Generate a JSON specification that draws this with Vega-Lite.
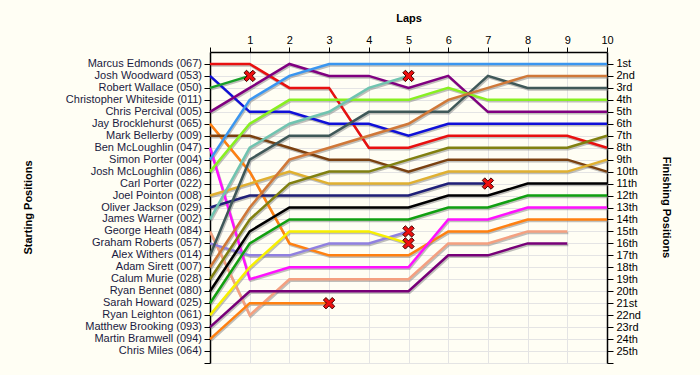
{
  "$schema": "https://vega.github.io/schema/vega-lite/v6.json",
  "width": 397,
  "height": 311,
  "autosize": "none",
  "padding": {"left": 210, "top": 52, "right": 93, "bottom": 12},
  "background": "#FFFEF4",
  "config": {
    "view": {"stroke": null},
    "font": "Liberation Sans",
    "axis": {
      "labelFont": "Liberation Sans",
      "labelFontSize": 11,
      "labelColor": "#1a1a40",
      "titleFont": "Liberation Sans",
      "titleFontSize": 11,
      "titleFontWeight": "bold",
      "titleColor": "#000000",
      "domainColor": "#000000",
      "domainWidth": 1.5,
      "tickColor": "#000000",
      "tickWidth": 1,
      "tickSize": 6,
      "gridColor": "#E4E4E4",
      "gridWidth": 1,
      "labelFlush": false,
      "labelOverlap": false
    }
  },
  "datasets": {
    "laps": [
      {"car":"067","lap":0,"pos":1},{"car":"067","lap":1,"pos":1},{"car":"067","lap":2,"pos":3},{"car":"067","lap":3,"pos":3},{"car":"067","lap":4,"pos":8},{"car":"067","lap":5,"pos":8},{"car":"067","lap":6,"pos":7},{"car":"067","lap":7,"pos":7},{"car":"067","lap":8,"pos":7},{"car":"067","lap":9,"pos":7},{"car":"067","lap":10,"pos":8},
      {"car":"053","lap":0,"pos":2},{"car":"053","lap":1,"pos":5},{"car":"053","lap":2,"pos":5},{"car":"053","lap":3,"pos":6},{"car":"053","lap":4,"pos":6},{"car":"053","lap":5,"pos":7},{"car":"053","lap":6,"pos":6},{"car":"053","lap":7,"pos":6},{"car":"053","lap":8,"pos":6},{"car":"053","lap":9,"pos":6},{"car":"053","lap":10,"pos":6},
      {"car":"050","lap":0,"pos":3},{"car":"050","lap":1,"pos":2},
      {"car":"005","lap":0,"pos":5},{"car":"005","lap":1,"pos":3},{"car":"005","lap":2,"pos":1},{"car":"005","lap":3,"pos":2},{"car":"005","lap":4,"pos":2},{"car":"005","lap":5,"pos":3},{"car":"005","lap":6,"pos":2},{"car":"005","lap":7,"pos":5},{"car":"005","lap":8,"pos":5},{"car":"005","lap":9,"pos":5},{"car":"005","lap":10,"pos":5},
      {"car":"065","lap":0,"pos":6},{"car":"065","lap":1,"pos":10},{"car":"065","lap":2,"pos":16},{"car":"065","lap":3,"pos":17},{"car":"065","lap":4,"pos":17},{"car":"065","lap":5,"pos":17},{"car":"065","lap":6,"pos":15},{"car":"065","lap":7,"pos":15},{"car":"065","lap":8,"pos":14},{"car":"065","lap":9,"pos":14},{"car":"065","lap":10,"pos":14},
      {"car":"009","lap":0,"pos":7},{"car":"009","lap":1,"pos":7},{"car":"009","lap":2,"pos":8},{"car":"009","lap":3,"pos":9},{"car":"009","lap":4,"pos":9},{"car":"009","lap":5,"pos":10},{"car":"009","lap":6,"pos":9},{"car":"009","lap":7,"pos":9},{"car":"009","lap":8,"pos":9},{"car":"009","lap":9,"pos":9},{"car":"009","lap":10,"pos":10},
      {"car":"047","lap":0,"pos":8},{"car":"047","lap":1,"pos":19},{"car":"047","lap":2,"pos":18},{"car":"047","lap":3,"pos":18},{"car":"047","lap":4,"pos":18},{"car":"047","lap":5,"pos":18},{"car":"047","lap":6,"pos":14},{"car":"047","lap":7,"pos":14},{"car":"047","lap":8,"pos":13},{"car":"047","lap":9,"pos":13},{"car":"047","lap":10,"pos":13},
      {"car":"004","lap":0,"pos":9},{"car":"004","lap":1,"pos":4},{"car":"004","lap":2,"pos":2},{"car":"004","lap":3,"pos":1},{"car":"004","lap":4,"pos":1},{"car":"004","lap":5,"pos":1},{"car":"004","lap":6,"pos":1},{"car":"004","lap":7,"pos":1},{"car":"004","lap":8,"pos":1},{"car":"004","lap":9,"pos":1},{"car":"004","lap":10,"pos":1},
      {"car":"086","lap":0,"pos":10},{"car":"086","lap":1,"pos":6},{"car":"086","lap":2,"pos":4},{"car":"086","lap":3,"pos":4},{"car":"086","lap":4,"pos":4},{"car":"086","lap":5,"pos":4},{"car":"086","lap":6,"pos":3},{"car":"086","lap":7,"pos":4},{"car":"086","lap":8,"pos":4},{"car":"086","lap":9,"pos":4},{"car":"086","lap":10,"pos":4},
      {"car":"008","lap":0,"pos":12},{"car":"008","lap":1,"pos":11},{"car":"008","lap":2,"pos":10},{"car":"008","lap":3,"pos":11},{"car":"008","lap":4,"pos":11},{"car":"008","lap":5,"pos":11},{"car":"008","lap":6,"pos":10},{"car":"008","lap":7,"pos":10},{"car":"008","lap":8,"pos":10},{"car":"008","lap":9,"pos":10},{"car":"008","lap":10,"pos":9},
      {"car":"029","lap":0,"pos":13},{"car":"029","lap":1,"pos":12},{"car":"029","lap":2,"pos":12},{"car":"029","lap":3,"pos":12},{"car":"029","lap":4,"pos":12},{"car":"029","lap":5,"pos":12},{"car":"029","lap":6,"pos":11},{"car":"029","lap":7,"pos":11},
      {"car":"002","lap":0,"pos":14},{"car":"002","lap":1,"pos":8},{"car":"002","lap":2,"pos":6},{"car":"002","lap":3,"pos":5},{"car":"002","lap":4,"pos":3},{"car":"002","lap":5,"pos":2},
      {"car":"084","lap":0,"pos":15},{"car":"084","lap":1,"pos":22},{"car":"084","lap":2,"pos":19},{"car":"084","lap":3,"pos":19},{"car":"084","lap":4,"pos":19},{"car":"084","lap":5,"pos":19},{"car":"084","lap":6,"pos":16},{"car":"084","lap":7,"pos":16},{"car":"084","lap":8,"pos":15},{"car":"084","lap":9,"pos":15},
      {"car":"057","lap":0,"pos":16},{"car":"057","lap":1,"pos":17},{"car":"057","lap":2,"pos":17},{"car":"057","lap":3,"pos":16},{"car":"057","lap":4,"pos":16},{"car":"057","lap":5,"pos":15},
      {"car":"014","lap":0,"pos":17},{"car":"014","lap":1,"pos":9},{"car":"014","lap":2,"pos":7},{"car":"014","lap":3,"pos":7},{"car":"014","lap":4,"pos":5},{"car":"014","lap":5,"pos":5},{"car":"014","lap":6,"pos":5},{"car":"014","lap":7,"pos":2},{"car":"014","lap":8,"pos":3},{"car":"014","lap":9,"pos":3},{"car":"014","lap":10,"pos":3},
      {"car":"007","lap":0,"pos":18},{"car":"007","lap":1,"pos":13},{"car":"007","lap":2,"pos":9},{"car":"007","lap":3,"pos":8},{"car":"007","lap":4,"pos":7},{"car":"007","lap":5,"pos":6},{"car":"007","lap":6,"pos":4},{"car":"007","lap":7,"pos":3},{"car":"007","lap":8,"pos":2},{"car":"007","lap":9,"pos":2},{"car":"007","lap":10,"pos":2},
      {"car":"028","lap":0,"pos":19},{"car":"028","lap":1,"pos":14},{"car":"028","lap":2,"pos":11},{"car":"028","lap":3,"pos":10},{"car":"028","lap":4,"pos":10},{"car":"028","lap":5,"pos":9},{"car":"028","lap":6,"pos":8},{"car":"028","lap":7,"pos":8},{"car":"028","lap":8,"pos":8},{"car":"028","lap":9,"pos":8},{"car":"028","lap":10,"pos":7},
      {"car":"080","lap":0,"pos":20},{"car":"080","lap":1,"pos":15},{"car":"080","lap":2,"pos":13},{"car":"080","lap":3,"pos":13},{"car":"080","lap":4,"pos":13},{"car":"080","lap":5,"pos":13},{"car":"080","lap":6,"pos":12},{"car":"080","lap":7,"pos":12},{"car":"080","lap":8,"pos":11},{"car":"080","lap":9,"pos":11},{"car":"080","lap":10,"pos":11},
      {"car":"025","lap":0,"pos":21},{"car":"025","lap":1,"pos":16},{"car":"025","lap":2,"pos":14},{"car":"025","lap":3,"pos":14},{"car":"025","lap":4,"pos":14},{"car":"025","lap":5,"pos":14},{"car":"025","lap":6,"pos":13},{"car":"025","lap":7,"pos":13},{"car":"025","lap":8,"pos":12},{"car":"025","lap":9,"pos":12},{"car":"025","lap":10,"pos":12},
      {"car":"061","lap":0,"pos":22},{"car":"061","lap":1,"pos":18},{"car":"061","lap":2,"pos":15},{"car":"061","lap":3,"pos":15},{"car":"061","lap":4,"pos":15},{"car":"061","lap":5,"pos":16},
      {"car":"093","lap":0,"pos":23},{"car":"093","lap":1,"pos":20},{"car":"093","lap":2,"pos":20},{"car":"093","lap":3,"pos":20},{"car":"093","lap":4,"pos":20},{"car":"093","lap":5,"pos":20},{"car":"093","lap":6,"pos":17},{"car":"093","lap":7,"pos":17},{"car":"093","lap":8,"pos":16},{"car":"093","lap":9,"pos":16},
      {"car":"094","lap":0,"pos":24},{"car":"094","lap":1,"pos":21},{"car":"094","lap":2,"pos":21},{"car":"094","lap":3,"pos":21}
    ],
    "retired": [
      {"car":"050","lap":1,"pos":2},
      {"car":"094","lap":3,"pos":21},
      {"car":"002","lap":5,"pos":2},
      {"car":"057","lap":5,"pos":15},
      {"car":"061","lap":5,"pos":16},
      {"car":"029","lap":7,"pos":11}
    ],
    "starts": [
      {"pos":1,"name":"Marcus Edmonds (067)"},
      {"pos":2,"name":"Josh Woodward (053)"},
      {"pos":3,"name":"Robert Wallace (050)"},
      {"pos":4,"name":"Christopher Whiteside (011)"},
      {"pos":5,"name":"Chris Percival (005)"},
      {"pos":6,"name":"Jay Brocklehurst (065)"},
      {"pos":7,"name":"Mark Bellerby (009)"},
      {"pos":8,"name":"Ben McLoughlin (047)"},
      {"pos":9,"name":"Simon Porter (004)"},
      {"pos":10,"name":"Josh McLoughlin (086)"},
      {"pos":11,"name":"Carl Porter (022)"},
      {"pos":12,"name":"Joel Pointon (008)"},
      {"pos":13,"name":"Oliver Jackson (029)"},
      {"pos":14,"name":"James Warner (002)"},
      {"pos":15,"name":"George Heath (084)"},
      {"pos":16,"name":"Graham Roberts (057)"},
      {"pos":17,"name":"Alex Withers (014)"},
      {"pos":18,"name":"Adam Sirett (007)"},
      {"pos":19,"name":"Calum Murie (028)"},
      {"pos":20,"name":"Ryan Bennet (080)"},
      {"pos":21,"name":"Sarah Howard (025)"},
      {"pos":22,"name":"Ryan Leighton (061)"},
      {"pos":23,"name":"Matthew Brooking (093)"},
      {"pos":24,"name":"Martin Bramwell (094)"},
      {"pos":25,"name":"Chris Miles (064)"}
    ]
  },
  "layer": [
    {
      "data": {"name": "laps"},
      "mark": {"type": "line", "color": "#808080", "opacity": 0.5, "strokeWidth": 2.5, "xOffset": 1, "yOffset": 1.5},
      "encoding": {
        "x": {
          "field": "lap", "type": "ordinal",
          "scale": {"type": "point", "domain": [0,1,2,3,4,5,6,7,8,9,10], "padding": 0},
          "axis": {
            "orient": "top", "labelAngle": 0,
            "labelExpr": "datum.value == 0 ? '' : '' + datum.value",
            "labelOverlap": false, "labelFlush": false,
            "title": "Laps", "titleY": -34, "titleBaseline": "middle",
            "grid": true, "tickSize": 5, "labelPadding": 2, "labelColor": "#000000"
          }
        },
        "y": {
          "field": "pos", "type": "quantitative",
          "scale": {"domain": [0, 26], "reverse": true, "nice": false, "zero": false},
          "axis": {
            "orient": "left", "values": [1,2,3,4,5,6,7,8,9,10,11,12,13,14,15,16,17,18,19,20,21,22,23,24,25,26],
            "labels": false, "grid": true,
            "title": "Starting Positions", "titleAngle": -90, "titleX": -182, "titleY": 155,
            "titleAlign": "center", "titleBaseline": "middle"
          }
        },
        "detail": {"field": "car"}
      }
    },
    {
      "data": {"name": "laps"},
      "mark": {"type": "line", "strokeWidth": 2.5},
      "encoding": {
        "x": {"field": "lap", "type": "ordinal"},
        "y": {
          "field": "pos", "type": "quantitative",
          "axis": {
            "orient": "right", "values": [1,2,3,4,5,6,7,8,9,10,11,12,13,14,15,16,17,18,19,20,21,22,23,24,25,26],
            "grid": false, "labelPadding": 3, "labelOverlap": false, "labelColor": "#000000",
            "labelExpr": "datum.value > 25 ? '' : datum.value + ((datum.value % 10 == 1 && datum.value != 11) ? 'st' : (datum.value % 10 == 2 && datum.value != 12) ? 'nd' : (datum.value % 10 == 3 && datum.value != 13) ? 'rd' : 'th')",
            "title": "Finishing Positions", "titleAngle": 90, "titleX": 58, "titleY": 155,
            "titleAlign": "center", "titleBaseline": "middle"
          }
        },
        "color": {
          "field": "car", "type": "nominal", "legend": null,
          "scale": {
            "domain": ["067","053","050","005","065","009","047","004","086","008","029","002","084","057","014","007","028","080","025","061","093","094"],
            "range": ["#E81010","#1010D8","#18A028","#800080","#FF8010","#7A4010","#FF10FF","#3A96F0","#88F020","#E0B030","#202078","#70C4B0","#F4A080","#9080E0","#3F5858","#D07838","#808010","#000000","#10A010","#F8F000","#780078","#FF8010"]
          }
        }
      }
    },
    {
      "data": {"name": "retired"},
      "mark": {"type": "point", "shape": "M-1,-0.55L-0.55,-1L0,-0.45L0.55,-1L1,-0.55L0.45,0L1,0.55L0.55,1L0,0.45L-0.55,1L-1,0.55L-0.45,0Z", "size": 130, "filled": true, "fill": "#EE1010", "stroke": "#400000", "strokeWidth": 1, "opacity": 1},
      "encoding": {
        "x": {"field": "lap", "type": "ordinal"},
        "y": {"field": "pos", "type": "quantitative", "axis": null}
      }
    },
    {
      "data": {"name": "starts"},
      "mark": {"type": "text", "align": "right", "baseline": "middle", "dx": -8, "fontSize": 11, "font": "Liberation Sans", "color": "#1a1a40"},
      "encoding": {
        "x": {"datum": 0, "type": "ordinal"},
        "y": {"field": "pos", "type": "quantitative", "axis": null},
        "text": {"field": "name"}
      }
    }
  ],
  "resolve": {"axis": {"y": "independent"}}
}
